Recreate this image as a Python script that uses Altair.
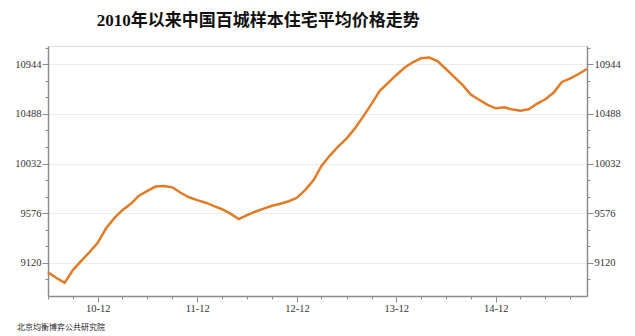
import altair as alt
import pandas as pd

# Monthly data, 2010-06 .. 2015-11
start_month = "2010-06-01"
prices = [
    9033, 8983, 8937, 9056, 9138, 9220, 9307, 9440, 9536, 9604, 9663, 9737,
    9782, 9821, 9826, 9814, 9764, 9723, 9697, 9673, 9641, 9613, 9572, 9522,
    9558, 9590, 9618, 9645, 9663, 9686, 9718, 9791, 9883, 10011, 10106, 10189,
    10262, 10353, 10463, 10581, 10700, 10773, 10846, 10915, 10965, 10999, 11006, 10974,
    10901, 10828, 10755, 10664, 10618, 10572, 10540, 10549, 10528, 10517, 10531, 10581,
    10623, 10682, 10782, 10814, 10855, 10901,
]
months = [d.strftime("%Y-%m-%d") for d in pd.date_range(start_month, periods=len(prices), freq="MS")]

y_major = [9120, 9576, 10032, 10488, 10944]
y_minor_step = 152
y_domain = [8816, 11112]
y_ticks = list(range(8968, 11112, y_minor_step))

title_text = "2010年以来中国百城样本住宅平均价格走势"
source_text = "北京均衡博弈公共研究院"

df = pd.DataFrame({"date": months, "price": prices})

x_ticks = [alt.DateTime(year=d.year, month=d.month, date=1, utc=True)
           for d in pd.date_range("2010-06-01", "2015-09-01", freq="3MS")]

serif = "Liberation Serif, Noto Sans CJK SC"
axis_gray = "#8c8c8c"

major_test = "(datum.value - 9120) % 456 == 0"

def y_axis(orient):
    return alt.Axis(
        orient=orient,
        values=y_ticks,
        format="d",
        labelExpr=f"{major_test} ? datum.label : ''",
        tickSize={"condition": {"test": major_test, "value": 6}, "value": 3},
        grid=(orient == "left"),
        gridColor="#ececec",
        gridOpacity={"condition": {"test": major_test, "value": 1}, "value": 0},
        domainColor=axis_gray,
        domainWidth=1.5,
        tickColor=axis_gray,
        tickWidth=1,
        labelFont=serif,
        labelFontSize=10.5,
        labelColor="#333333",
        labelPadding=1,
        title=None,
    )

x_enc = alt.X(
    "date:T",
    scale=alt.Scale(type="utc", domain=[alt.DateTime(year=2010, month=6, date=1, utc=True),
                                        alt.DateTime(year=2015, month=11, date=1, utc=True)]),
    axis=alt.Axis(
        values=x_ticks,
        labelExpr="utcmonth(datum.value) == 11 ? utcFormat(datum.value, '%y-%m') : ''",
        tickSize={"condition": {"test": "utcmonth(datum.value) == 11", "value": 6}, "value": 3},
        grid=False,
        domainColor=axis_gray,
        domainWidth=1.5,
        tickColor=axis_gray,
        labelFont=serif,
        labelFontSize=10.5,
        labelColor="#333333",
        labelPadding=1,
        title=None,
    ),
)

ysc = alt.Scale(domain=y_domain, nice=False, zero=False)

line = alt.Chart(df).mark_line(color="#E27B26", strokeWidth=2.5).encode(
    x=x_enc,
    y=alt.Y("price:Q", scale=ysc, axis=y_axis("left")),
)

right = alt.Chart(df).mark_line(opacity=0).encode(
    x=x_enc,
    y=alt.Y("price:Q", scale=ysc, axis=y_axis("right")),
)

src = alt.Chart(pd.DataFrame({"t": [source_text]})).mark_text(
    align="left", baseline="middle", font="Noto Sans CJK SC", fontSize=8, color="#222222"
).encode(x=alt.value(-31), y=alt.value(282), text="t:N")

chart = alt.layer(line, right, src).resolve_scale(y="independent").properties(
    width=539,
    height=250,
    autosize=alt.AutoSizeParams(type="none"),
    padding={"left": 48, "top": 46, "right": 48, "bottom": 40},
    title=alt.TitleParams(
        title_text,
        anchor="start",
        dx=82,
        offset=16,
        font=serif,
        fontSize=17,
        fontWeight="bold",
        color="#111111",
    ),
).configure_view(stroke=None).configure(background="white")

chart.save("out.html", embed_options={"renderer": "svg", "actions": False})
